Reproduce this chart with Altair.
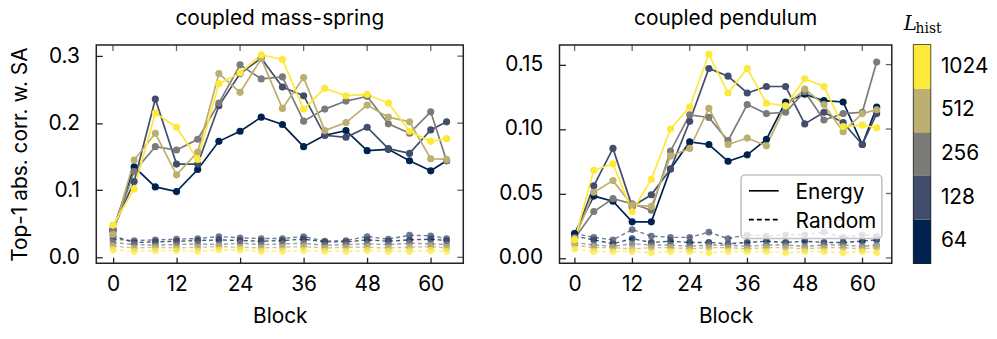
import altair as alt
import pandas as pd

blocks = [0, 4, 8, 12, 16, 20, 24, 28, 32, 36, 40, 44, 48, 52, 56, 60, 63]
L_values = [64, 128, 256, 512, 1024]
L_colors = ["#00224e", "#414d6b", "#7c7b78", "#bcaf6f", "#fee838"]
x_ticks = [0, 12, 24, 36, 48, 60]
ms_y_ticks = [0.0, 0.1, 0.2, 0.3]
pd_y_ticks = [0.0, 0.05, 0.10, 0.15]

# coupled mass-spring — Energy
ms_energy_64 = [0.040, 0.135, 0.105, 0.098, 0.131, 0.173, 0.188, 0.209, 0.198, 0.165, 0.182, 0.189, 0.159, 0.161, 0.144, 0.129, 0.144]
ms_energy_128 = [0.042, 0.113, 0.236, 0.139, 0.139, 0.226, 0.274, 0.297, 0.254, 0.241, 0.182, 0.179, 0.194, 0.162, 0.155, 0.190, 0.202]
ms_energy_256 = [0.038, 0.128, 0.165, 0.160, 0.176, 0.230, 0.287, 0.266, 0.269, 0.203, 0.221, 0.233, 0.240, 0.199, 0.185, 0.217, 0.144]
ms_energy_512 = [0.034, 0.145, 0.185, 0.123, 0.157, 0.274, 0.246, 0.296, 0.222, 0.268, 0.189, 0.201, 0.227, 0.209, 0.202, 0.147, 0.146]
ms_energy_1024 = [0.048, 0.102, 0.215, 0.194, 0.146, 0.259, 0.275, 0.302, 0.295, 0.221, 0.252, 0.241, 0.243, 0.230, 0.188, 0.173, 0.177]
# coupled mass-spring — Random
ms_random_64 = [0.032, 0.022, 0.023, 0.024, 0.025, 0.026, 0.025, 0.024, 0.025, 0.027, 0.023, 0.023, 0.026, 0.024, 0.026, 0.027, 0.025]
ms_random_128 = [0.027, 0.025, 0.026, 0.027, 0.028, 0.031, 0.029, 0.028, 0.028, 0.031, 0.024, 0.025, 0.031, 0.027, 0.033, 0.032, 0.028]
ms_random_256 = [0.022, 0.019, 0.018, 0.019, 0.020, 0.019, 0.021, 0.019, 0.020, 0.021, 0.018, 0.019, 0.020, 0.019, 0.021, 0.020, 0.019]
ms_random_512 = [0.017, 0.014, 0.015, 0.014, 0.015, 0.016, 0.015, 0.014, 0.015, 0.016, 0.014, 0.015, 0.015, 0.014, 0.015, 0.016, 0.014]
ms_random_1024 = [0.011, 0.009, 0.010, 0.010, 0.009, 0.011, 0.011, 0.009, 0.009, 0.010, 0.009, 0.009, 0.010, 0.009, 0.009, 0.010, 0.009]

# coupled pendulum — Energy
pd_energy_64 = [0.019, 0.048, 0.044, 0.028, 0.028, 0.069, 0.090, 0.088, 0.075, 0.080, 0.092, 0.121, 0.127, 0.122, 0.121, 0.088, 0.117]
pd_energy_128 = [0.016, 0.056, 0.085, 0.040, 0.049, 0.069, 0.106, 0.147, 0.141, 0.128, 0.133, 0.133, 0.104, 0.113, 0.105, 0.088, 0.112]
pd_energy_256 = [0.015, 0.036, 0.046, 0.042, 0.037, 0.083, 0.111, 0.109, 0.091, 0.119, 0.112, 0.113, 0.129, 0.107, 0.112, 0.113, 0.152]
pd_energy_512 = [0.015, 0.051, 0.060, 0.041, 0.040, 0.079, 0.085, 0.116, 0.088, 0.093, 0.087, 0.118, 0.131, 0.119, 0.098, 0.112, 0.115]
pd_energy_1024 = [0.014, 0.068, 0.073, 0.036, 0.061, 0.100, 0.117, 0.158, 0.128, 0.147, 0.120, 0.118, 0.139, 0.133, 0.102, 0.103, 0.101]
# coupled pendulum — Random
pd_random_64 = [0.017, 0.014, 0.011, 0.015, 0.012, 0.013, 0.012, 0.012, 0.011, 0.012, 0.013, 0.012, 0.013, 0.012, 0.012, 0.013, 0.014]
pd_random_128 = [0.019, 0.016, 0.014, 0.022, 0.017, 0.016, 0.016, 0.020, 0.015, 0.018, 0.017, 0.018, 0.018, 0.020, 0.016, 0.018, 0.017]
pd_random_256 = [0.012, 0.010, 0.009, 0.011, 0.010, 0.010, 0.009, 0.010, 0.010, 0.009, 0.010, 0.010, 0.009, 0.010, 0.010, 0.009, 0.010]
pd_random_512 = [0.010, 0.008, 0.008, 0.007, 0.008, 0.008, 0.007, 0.008, 0.008, 0.007, 0.008, 0.008, 0.007, 0.008, 0.008, 0.007, 0.008]
pd_random_1024 = [0.007, 0.005, 0.005, 0.005, 0.004, 0.005, 0.005, 0.004, 0.005, 0.005, 0.005, 0.004, 0.005, 0.005, 0.004, 0.005, 0.004]

FONT = "Inter"
FS = 21
INWARD = {"expr": "-6"}
H = 220


def build_df(energy_lists, random_lists):
    rows = []
    for L, r in zip(L_values, random_lists):
        for b, v in zip(blocks, r):
            rows.append({"block": b, "value": v, "L": L, "kind": "Random"})
    for L, e in zip(L_values, energy_lists):
        for b, v in zip(blocks, e):
            rows.append({"block": b, "value": v, "L": L, "kind": "Energy"})
    return pd.DataFrame(rows)


ms_df = build_df([ms_energy_64, ms_energy_128, ms_energy_256, ms_energy_512, ms_energy_1024],
                 [ms_random_64, ms_random_128, ms_random_256, ms_random_512, ms_random_1024])
pd_df = build_df([pd_energy_64, pd_energy_128, pd_energy_256, pd_energy_512, pd_energy_1024],
                 [pd_random_64, pd_random_128, pd_random_256, pd_random_512, pd_random_1024])


def panel(df, title, ydomain, yticks, yfmt, width, ytitle, with_legend):
    xscale = alt.Scale(domain=[-3.15, 66.15], nice=False, zero=False)
    yscale = alt.Scale(domain=ydomain, nice=False, zero=False)
    color = alt.Color("L:O", scale=alt.Scale(domain=L_values, range=L_colors), legend=None)
    xaxis = alt.Axis(values=x_ticks, tickSize=INWARD, tickWidth=1.3, labelPadding=16,
                     domain=False, grid=False, title="Block", titlePadding=12, labelFlush=False)
    ykw = dict(values=yticks, format=yfmt, tickSize=INWARD, tickWidth=1.3, labelPadding=23,
               domain=False, grid=False)
    if ytitle:
        yaxis = alt.Axis(title=ytitle, titlePadding=18, **ykw)
    else:
        yaxis = alt.Axis(title=None, **ykw)

    base = alt.Chart(df)
    rnd = base.transform_filter(alt.datum.kind == "Random")
    en = base.transform_filter(alt.datum.kind == "Energy")
    X = alt.X("block:Q", scale=xscale, axis=xaxis)
    Y = alt.Y("value:Q", scale=yscale, axis=yaxis)

    r_line = rnd.mark_line(strokeDash=[4, 3], strokeWidth=1.4, opacity=0.75).encode(
        x=X, y=Y, color=color, detail="L:O")
    r_pts = rnd.mark_circle(size=46, opacity=0.75).encode(x=X, y=Y, color=color)
    e_line = en.mark_line(strokeWidth=1.7).encode(x=X, y=Y, color=color, detail="L:O")
    e_pts = en.mark_circle(size=52, opacity=1).encode(x=X, y=Y, color=color)

    # mirrored ticks on the top and right edges of the frame
    top_ticks = alt.Chart(pd.DataFrame({"t": x_ticks})).mark_tick(
        orient="vertical", size=6, thickness=1.3, color="#222222").encode(
        x=alt.X("t:Q", scale=xscale), y=alt.value(3))
    right_ticks = alt.Chart(pd.DataFrame({"t": yticks})).mark_tick(
        orient="horizontal", size=6, thickness=1.3, color="#222222").encode(
        y=alt.Y("t:Q", scale=yscale), x=alt.value(width - 3))
    layers = [r_line, r_pts, e_line, e_pts, top_ticks, right_ticks]

    if with_legend:
        one = pd.DataFrame({"a": [0]})
        box = alt.Chart(one).mark_rect(fill="white", fillOpacity=0.8, stroke="#c4c4c4", strokeWidth=1.6,
                                       cornerRadius=4).encode(
            x=alt.value(183), x2=alt.value(325), y=alt.value(131), y2=alt.value(195))
        leg_df = pd.DataFrame({"label": ["Energy", "Random"], "dash": ["solid", "dashed"]})
        solid = alt.Chart(leg_df).transform_filter(alt.datum.dash == "solid").mark_rule(
            color="black", strokeWidth=1.6).encode(x=alt.value(191), x2=alt.value(221), y=alt.value(147))
        dashed = alt.Chart(leg_df).transform_filter(alt.datum.dash == "dashed").mark_rule(
            color="black", strokeWidth=1.6, strokeDash=[5, 3]).encode(
            x=alt.value(191), x2=alt.value(221), y=alt.value(176))
        t1 = alt.Chart(leg_df).transform_filter(alt.datum.label == "Energy").mark_text(
            align="left", baseline="alphabetic", font=FONT, fontSize=FS, color="black").encode(
            text="label:N", x=alt.value(238), y=alt.value(155))
        t2 = alt.Chart(leg_df).transform_filter(alt.datum.label == "Random").mark_text(
            align="left", baseline="alphabetic", font=FONT, fontSize=FS, color="black").encode(
            text="label:N", x=alt.value(238), y=alt.value(184))
        layers += [box, solid, dashed, t1, t2]

    return alt.layer(*layers).properties(width=width, height=H, title=title)


left = panel(ms_df, "coupled mass-spring", [-0.0088, 0.3166], ms_y_ticks, ".1f", 370,
             "Top-1 abs. corr. w. SA", False)
right = panel(pd_df, "coupled pendulum", [-0.0041, 0.1652], pd_y_ticks, ".2f", 335,
              None, True)

cb_df = pd.DataFrame({"L": [str(v) for v in L_values], "c": L_colors})
cb_rect = alt.Chart(cb_df).mark_rect().encode(
    y=alt.Y("L:O", sort=[str(v) for v in L_values[::-1]],
            scale=alt.Scale(paddingInner=0, paddingOuter=0),
            axis=alt.Axis(orient="right", ticks=False, domain=False, labelPadding=10, title=None)),
    x=alt.value(0), x2=alt.value(17),
    color=alt.Color("c:N", scale=None))
cb_title_df = pd.DataFrame({"main": ["L"], "sub": ["hist"]})
cb_L = alt.Chart(cb_title_df).mark_text(align="left", baseline="alphabetic", font="DejaVu Serif",
                                        fontStyle="italic", fontSize=20, color="black").encode(
    text="main:N", x=alt.value(-10), y=alt.value(-15))
cb_sub = alt.Chart(cb_title_df).mark_text(align="left", baseline="alphabetic", font="DejaVu Serif",
                                          fontSize=14, color="black").encode(
    text="sub:N", x=alt.value(2), y=alt.value(-12))
colorbar = alt.layer(cb_rect, cb_L, cb_sub).properties(width=17, height=H, title=" ")

chart = alt.hconcat(left, alt.hconcat(right, colorbar, spacing=10), spacing=33).properties(
    padding={"left": 0, "top": -33, "right": 0, "bottom": 0}
).configure_view(stroke="#222222", strokeWidth=1.5).configure_axis(
    labelFont=FONT, titleFont=FONT, labelFontSize=FS, titleFontSize=FS, titleFontWeight="normal",
    labelColor="black", titleColor="black", tickColor="#222222"
).configure_title(font=FONT, fontSize=FS, fontWeight="normal", color="black", offset=16)

chart.save("out.html", embed_options={"renderer": "svg", "actions": False})
